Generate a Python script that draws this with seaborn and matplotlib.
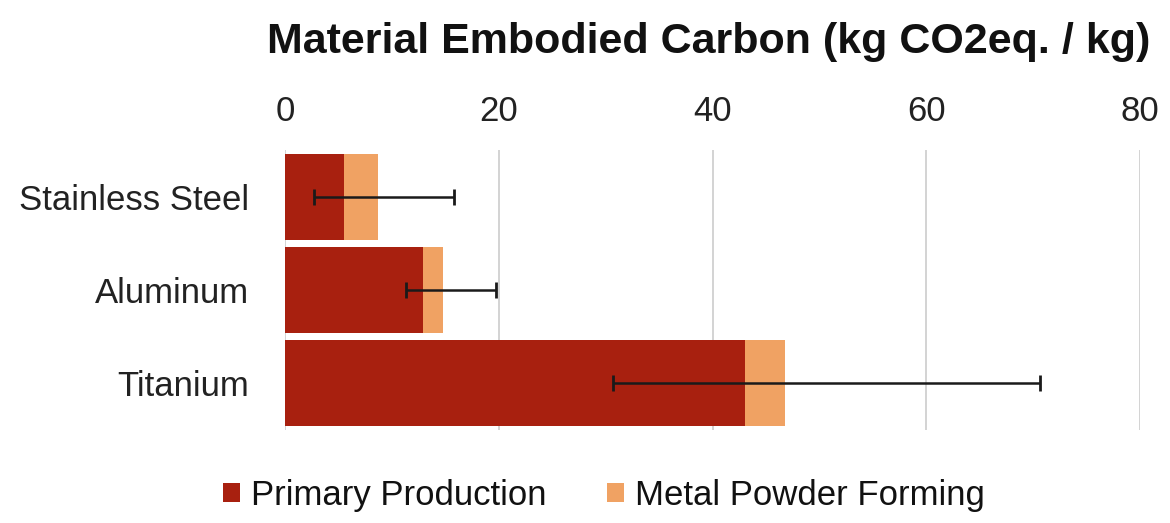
import matplotlib
matplotlib.use("Agg")
import matplotlib.pyplot as plt
import seaborn as sns
import pandas as pd
import numpy as np

materials = ["Stainless Steel", "Aluminum", "Titanium"]
primary = [5.5, 12.9, 43.0]
powder = [3.2, 1.9, 3.8]
err_low = [2.7, 11.3, 30.7]
err_high = [15.8, 19.7, 70.6]
xticks = [0, 20, 40, 60, 80]

sns.set_theme(style="white")
plt.rcParams['font.family'] = ['Liberation Sans', 'DejaVu Sans']

red = "#A8200F"
orange = "#F0A263"

df = pd.DataFrame({"material": materials, "primary": primary, "powder": powder})
df["total"] = df["primary"] + df["powder"]

fig = plt.figure(figsize=(11.7, 5.23), dpi=100)
ax = fig.add_axes([0.2436, 0.178, 0.7308, 0.535])

sns.barplot(data=df, y="material", x="total", color=orange, orient="h", width=0.92,
            ax=ax, saturation=1, label="Metal Powder Forming", linewidth=0)
sns.barplot(data=df, y="material", x="primary", color=red, orient="h", width=0.92,
            ax=ax, saturation=1, label="Primary Production", linewidth=0)

totals = df["total"].to_numpy()
lo = totals - np.array(err_low)
hi = np.array(err_high) - totals
ax.errorbar(totals, np.arange(len(materials)), xerr=[lo, hi], fmt="none",
            ecolor="#1a1a1a", elinewidth=1.8, capsize=6, capthick=2, zorder=5)

ax.set_xlim(0, 80)
ax.set_ylim(len(materials) - 0.5, -0.5)
ax.set_xticks(xticks)
ax.xaxis.tick_top()
ax.tick_params(axis="x", labelsize=25, length=0, pad=16, colors="#222222")
ax.tick_params(axis="y", labelsize=25, length=0, pad=26, colors="#222222")
ax.set_xlabel("")
ax.set_ylabel("")
ax.grid(axis="x", color="#cccccc", linewidth=1.2)
ax.set_axisbelow(True)
for s in ax.spines.values():
    s.set_visible(False)

fig.text(0.606, 0.92, "Material Embodied Carbon (kg CO2eq. / kg)", ha="center", va="center",
         fontsize=31, fontweight="bold", color="#111111")

handles, labels = ax.get_legend_handles_labels()
order = [labels.index("Primary Production"), labels.index("Metal Powder Forming")]
ax.legend([handles[i] for i in order], [labels[i] for i in order],
          loc="center", bbox_to_anchor=(0.516, 0.053), bbox_transform=fig.transFigure,
          ncol=2, frameon=False, fontsize=25, handlelength=0.5, handleheight=0.5,
          handletextpad=0.3, columnspacing=1.75, labelcolor="#111111")

fig.savefig("out.png", dpi=100)
